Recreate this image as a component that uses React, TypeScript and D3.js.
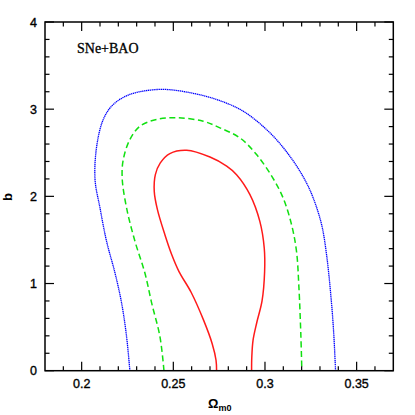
import { useEffect, useRef } from 'react';
import * as d3 from 'd3';

// contour levels: [omega_m0, b]
const outerContour = [
  [0.2263, 0], [0.2245, 0.391], [0.2218, 0.775], [0.2182, 1.12], [0.2136, 1.483],
  [0.2100, 1.867], [0.2073, 2.192], [0.2082, 2.575], [0.2118, 2.882], [0.2172, 3.054],
  [0.2263, 3.169], [0.2372, 3.218], [0.2463, 3.226], [0.2591, 3.189], [0.2736, 3.111],
  [0.2881, 2.977], [0.3027, 2.729], [0.3136, 2.46], [0.3217, 2.192], [0.3263, 1.982],
  [0.3309, 1.675], [0.3336, 1.33], [0.3363, 0.775], [0.3376, 0.391], [0.3385, 0],
];
const middleContour = [
  [0.2449, 0], [0.2427, 0.391], [0.2382, 0.775], [0.2345, 1.12], [0.2291, 1.483],
  [0.2245, 1.867], [0.2221, 2.211], [0.2227, 2.422], [0.2263, 2.652], [0.2318, 2.805],
  [0.2409, 2.882], [0.2525, 2.901], [0.2663, 2.862], [0.2754, 2.786], [0.2863, 2.671],
  [0.2954, 2.479], [0.304, 2.221], [0.3099, 1.982], [0.3145, 1.675], [0.3172, 1.368],
  [0.3185, 0.962], [0.3196, 0.391], [0.3201, 0],
];
const innerContour = [
  [0.2736, 0], [0.2733, 0.12], [0.2712, 0.31], [0.2665, 0.58], [0.2597, 0.9],
  [0.2531, 1.137], [0.2491, 1.333], [0.2454, 1.56], [0.2413, 1.85], [0.2396, 2.057],
  [0.2402, 2.249], [0.2429, 2.384], [0.2481, 2.491], [0.2573, 2.529], [0.27, 2.451],
  [0.2791, 2.347], [0.2845, 2.249], [0.2918, 2.02], [0.2972, 1.713], [0.2996, 1.407],
  [0.2998, 1.134], [0.2984, 0.8], [0.2955, 0.55], [0.2935, 0.35], [0.2928, 0.15], [0.2927, 0],
];

const xDomain = [0.18, 0.37];
const yDomain = [0, 4];
const xMajor = [0.2, 0.25, 0.3, 0.35];
const yMajor = [0, 1, 2, 3, 4];
const xMinor = d3.range(19, 37).map(v => v / 100);
const yMinor = d3.range(0, 21).map(v => v / 5);

export default function App() {
  const ref = useRef<SVGSVGElement>(null);

  useEffect(() => {
    const svg = d3.select(ref.current);
    svg.selectAll('*').remove();

    const L = 45, R = 393.3, T = 22, B = 370.7;
    const x = d3.scaleLinear().domain(xDomain).range([L, R]);
    const y = d3.scaleLinear().domain(yDomain).range([B, T]);
    const font = '"Liberation Sans", Arial, sans-serif';

    const line = d3.line<number[]>()
      .x(d => x(d[0])).y(d => y(d[1]))
      .curve(d3.curveCatmullRom.alpha(0.5));

    const g = svg.append('g');
    g.append('path').datum(outerContour).attr('d', line)
      .attr('fill', 'none').attr('stroke', '#0000ff').attr('stroke-width', 1.3)
      .attr('stroke-dasharray', '1.3,0.6');
    g.append('path').datum(middleContour).attr('d', line)
      .attr('fill', 'none').attr('stroke', '#10e010').attr('stroke-width', 1.5)
      .attr('stroke-dasharray', '6,3.5');
    g.append('path').datum(innerContour).attr('d', line)
      .attr('fill', 'none').attr('stroke', '#ff1a1a').attr('stroke-width', 1.5);

    // ticks on all four sides, pointing in
    const ticks = svg.append('g').attr('stroke', '#000').attr('stroke-width', 1.2);
    const xMinorOnly = xMinor.filter(v => !xMajor.some(m => Math.abs(m - v) < 1e-6));
    const yMinorOnly = yMinor.filter(v => !yMajor.some(m => Math.abs(m - v) < 1e-6));
    const tickSet = (vals: number[], len: number) => {
      vals.forEach(v => {
        ticks.append('line').attr('x1', x(v)).attr('x2', x(v)).attr('y1', B).attr('y2', B - len);
        ticks.append('line').attr('x1', x(v)).attr('x2', x(v)).attr('y1', T).attr('y2', T + len);
      });
    };
    const tickSetY = (vals: number[], len: number) => {
      vals.forEach(v => {
        ticks.append('line').attr('y1', y(v)).attr('y2', y(v)).attr('x1', L).attr('x2', L + len);
        ticks.append('line').attr('y1', y(v)).attr('y2', y(v)).attr('x1', R).attr('x2', R - len);
      });
    };
    tickSet(xMajor, 9);
    tickSet(xMinorOnly, 4.5);
    tickSetY(yMajor, 9);
    tickSetY(yMinorOnly, 4.5);

    svg.append('rect').attr('x', L).attr('y', T).attr('width', R - L).attr('height', B - T)
      .attr('fill', 'none').attr('stroke', '#000').attr('stroke-width', 1.5);

    svg.selectAll('.xl').data(xMajor).enter().append('text')
      .attr('x', d => x(d)).attr('y', 388).attr('text-anchor', 'middle')
      .style('font-family', font).style('font-size', '12.5px')
      .style('stroke', '#000').style('stroke-width', 0.35)
      .text(d => String(d));
    svg.selectAll('.yl').data(yMajor).enter().append('text')
      .attr('x', 37).attr('y', d => y(d) + 4.5).attr('text-anchor', 'end')
      .style('font-family', font).style('font-size', '12.5px')
      .style('stroke', '#000').style('stroke-width', 0.35)
      .text(d => String(d));

    svg.append('text').attr('transform', 'translate(12,197) rotate(-90)')
      .attr('text-anchor', 'middle')
      .style('font-family', font).style('font-size', '13px').style('font-weight', 'bold')
      .text('b');

    const ax = svg.append('text').attr('x', 208).attr('y', 408)
      .style('font-family', font).style('font-weight', 'bold');
    ax.append('tspan').style('font-size', '13px').text('Ω');
    ax.append('tspan').attr('dy', 3).style('font-size', '9px').text('m0');

    svg.append('text').attr('x', 77).attr('y', 53)
      .style('font-family', '"Liberation Serif", serif').style('font-size', '14px')
      .style('stroke', '#000').style('stroke-width', 0.3)
      .text('SNe+BAO');
  }, []);

  return (
    <svg ref={ref} width={415} height={415}
      style={{ position: 'fixed', left: 0, top: 0, background: '#fff' }} />
  );
}
